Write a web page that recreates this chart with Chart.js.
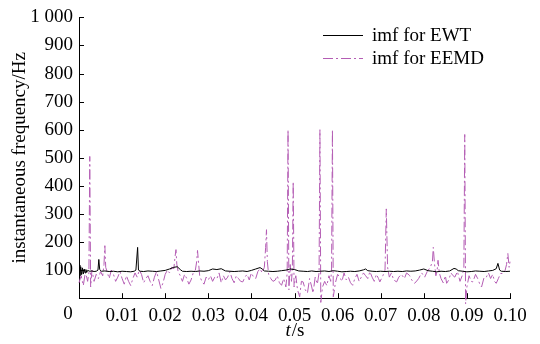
<!DOCTYPE html>
<html>
<head>
<meta charset="utf-8">
<script src="https://cdn.jsdelivr.net/npm/chart.js@4.4.1/dist/chart.umd.min.js"></script>
<style>
  html, body { margin: 0; padding: 0; background: #fff; }
  #wrap { width: 540px; height: 344px; }
</style>
</head>
<body>
<div id="wrap"><canvas id="c" width="540" height="344"></canvas></div>
<script>
// ---- data ----
const seriesNames = ['imf for EWT', 'imf for EEMD'];

const ewtTime = [0, 0.0002, 0.0004, 0.0006, 0.0008, 0.0010, 0.0012, 0.0014, 0.0016, 0.0018, 0.0020, 0.0025, 0.0030, 0.0035, 0.0040, 0.0044, 0.0046, 0.0048, 0.0052, 0.006, 0.007, 0.008, 0.009, 0.010, 0.011, 0.012, 0.0128, 0.0132, 0.0136, 0.0138, 0.0142, 0.015, 0.016, 0.017, 0.018, 0.019, 0.020, 0.021, 0.022, 0.0228, 0.0235, 0.024, 0.025, 0.026, 0.027, 0.028, 0.029, 0.030, 0.031, 0.032, 0.033, 0.034, 0.035, 0.036, 0.037, 0.038, 0.039, 0.040, 0.041, 0.042, 0.0425, 0.043, 0.044, 0.045, 0.046, 0.047, 0.048, 0.049, 0.050, 0.051, 0.052, 0.053, 0.054, 0.055, 0.056, 0.057, 0.058, 0.059, 0.060, 0.061, 0.062, 0.063, 0.064, 0.065, 0.066, 0.0665, 0.067, 0.068, 0.069, 0.070, 0.071, 0.072, 0.073, 0.074, 0.075, 0.076, 0.077, 0.078, 0.079, 0.080, 0.081, 0.082, 0.083, 0.084, 0.085, 0.086, 0.087, 0.0875, 0.088, 0.089, 0.090, 0.091, 0.092, 0.093, 0.094, 0.095, 0.096, 0.0968, 0.0972, 0.0976, 0.098, 0.099, 0.100];
const ewtFreq = [118, 80, 112, 84, 108, 86, 104, 90, 102, 92, 99, 96, 97, 95, 96, 100, 138, 102, 96, 97, 95, 96, 94, 96, 95, 94, 96, 100, 181, 100, 96, 95, 97, 96, 95, 97, 99, 104, 110, 112, 102, 96, 95, 96, 95, 97, 96, 98, 104, 102, 105, 97, 96, 95, 96, 97, 95, 99, 104, 109, 104, 97, 96, 95, 96, 98, 100, 104, 102, 97, 96, 95, 97, 95, 96, 97, 95, 98, 96, 94, 95, 96, 95, 97, 101, 104, 98, 96, 95, 96, 95, 96, 95, 96, 95, 97, 96, 97, 100, 104, 98, 96, 94, 96, 95, 97, 106, 104, 98, 96, 94, 95, 97, 96, 95, 97, 99, 105, 124, 100, 96, 95, 96];

const eemdTime = [0.0000, 0.0005, 0.0010, 0.0015, 0.0020, 0.0023, 0.0025, 0.0027, 0.0030, 0.0035, 0.0040, 0.0045, 0.0050, 0.0055, 0.0058, 0.0060, 0.0062, 0.0065, 0.0070, 0.0075, 0.0080, 0.0085, 0.0090, 0.0095, 0.0100, 0.0105, 0.0110, 0.0115, 0.0120, 0.0125, 0.0130, 0.0135, 0.0140, 0.0145, 0.0150, 0.0155, 0.0160, 0.0165, 0.0170, 0.0175, 0.0180, 0.0185, 0.0190, 0.0195, 0.0200, 0.0205, 0.0210, 0.0215, 0.0220, 0.0223, 0.0225, 0.0227, 0.0230, 0.0235, 0.0240, 0.0245, 0.0250, 0.0255, 0.0260, 0.0265, 0.0270, 0.0273, 0.0275, 0.0278, 0.0280, 0.0285, 0.0290, 0.0295, 0.0300, 0.0305, 0.0310, 0.0315, 0.0320, 0.0325, 0.0330, 0.0335, 0.0340, 0.0345, 0.0350, 0.0355, 0.0360, 0.0365, 0.0370, 0.0375, 0.0380, 0.0385, 0.0390, 0.0395, 0.0400, 0.0405, 0.0410, 0.0415, 0.0420, 0.0425, 0.0430, 0.0433, 0.0435, 0.0437, 0.0440, 0.0445, 0.0450, 0.0455, 0.0460, 0.0465, 0.0470, 0.0475, 0.0480, 0.0483, 0.0485, 0.0487, 0.0490, 0.0493, 0.0495, 0.0497, 0.0499, 0.0503, 0.0507, 0.0512, 0.0516, 0.0520, 0.0525, 0.0530, 0.0535, 0.0540, 0.0543, 0.0548, 0.0553, 0.0557, 0.0559, 0.0561, 0.0565, 0.0570, 0.0575, 0.0580, 0.0584, 0.0586, 0.0588, 0.0590, 0.0595, 0.0600, 0.0605, 0.0610, 0.0615, 0.0620, 0.0625, 0.0630, 0.0635, 0.0640, 0.0645, 0.0650, 0.0655, 0.0660, 0.0665, 0.0670, 0.0675, 0.0680, 0.0685, 0.0690, 0.0695, 0.0698, 0.0705, 0.0710, 0.0713, 0.0716, 0.0720, 0.0725, 0.0730, 0.0737, 0.0742, 0.0748, 0.0755, 0.0760, 0.0767, 0.0772, 0.0778, 0.0782, 0.0788, 0.0795, 0.0802, 0.0808, 0.0815, 0.0820, 0.0822, 0.0825, 0.0828, 0.0831, 0.0833, 0.0836, 0.0840, 0.0845, 0.0850, 0.0853, 0.0858, 0.0863, 0.0868, 0.0872, 0.0878, 0.0884, 0.0889, 0.0893, 0.0895, 0.0897, 0.0900, 0.0905, 0.0910, 0.0914, 0.0920, 0.0925, 0.0930, 0.0934, 0.0940, 0.0945, 0.0950, 0.0955, 0.0960, 0.0964, 0.0968, 0.0973, 0.0978, 0.0983, 0.0988, 0.0992, 0.0995, 0.0998, 0.1000];
const eemdFreq = [55, 80, 45, 95, 60, 90, 505, 40, 100, 60, 85, 70, 95, 80, 120, 187, 110, 95, 70, 100, 85, 60, 75, 95, 70, 50, 80, 60, 45, 70, 90, 75, 100, 85, 55, 70, 80, 60, 45, 75, 95, 65, 35, 55, 85, 100, 90, 110, 105, 150, 173, 120, 95, 80, 60, 85, 70, 50, 65, 90, 100, 130, 170, 115, 80, 60, 50, 75, 65, 80, 60, 75, 70, 90, 55, 80, 65, 75, 95, 70, 55, 80, 70, 60, 58, 75, 85, 65, 90, 75, 70, 95, 105, 90, 110, 180, 244, 130, 85, 70, 60, 64, 80, 55, 46, 70, 40, 90, 600, 30, 120, 60, 100, 415, 40, 80, 30, 5, 60, 58, 30, 18, 70, 40, 18, 75, 50, 90, 600, -15, 40, 60, 45, 80, 60, 100, 600, 5, 55, 85, 75, 60, 90, 65, 75, 55, 46, 70, 85, 60, 75, 90, 80, 70, 95, 75, 60, 85, 70, 58, 80, 100, 318, 110, 75, 90, 65, 58, 75, 85, 70, 90, 81, 65, 53, 58, 70, 90, 75, 95, 110, 130, 181, 120, 80, 100, 135, 90, 70, 55, 80, 53, 65, 90, 80, 75, 95, 60, 80, 110, 583, -20, 40, 80, 60, 58, 85, 70, 50, 40, 75, 75, 90, 70, 85, 60, 53, 70, 88, 88, 95, 120, 159, 110, 130];

const xTickValues = [0, 0.01, 0.02, 0.03, 0.04, 0.05, 0.06, 0.07, 0.08, 0.09, 0.10];
const yTickValues = [0, 100, 200, 300, 400, 500, 600, 700, 800, 900, 1000];
const yAxisTitle = 'instantaneous frequency/Hz';
const xAxisTitleItalic = 't';
const xAxisTitleRest = '/s';
const originLabel = '0';

// ---- styling ----
const FONT = "'Liberation Serif', 'Times New Roman', serif";
const EEMD_COLOR = '#b45db4';
const DASH = [10, 3, 2, 3];
const TICK_SIZE = 19;

const ewtData = ewtTime.map((t, i) => ({ x: t, y: ewtFreq[i] }));
const eemdData = eemdTime.map((t, i) => ({ x: t, y: eemdFreq[i] }));

const inwardTicks = {
  id: 'inwardTicks',
  afterDraw(chart) {
    const { ctx, chartArea, scales } = chart;
    ctx.save();
    ctx.strokeStyle = '#000';
    ctx.lineWidth = 1;
    ctx.beginPath();
    xTickValues.forEach(v => {
      const px = Math.round(scales.x.getPixelForValue(v)) + 0.5;
      ctx.moveTo(px, chartArea.bottom);
      ctx.lineTo(px, chartArea.bottom - 5);
    });
    yTickValues.forEach(v => {
      const py = Math.round(scales.y.getPixelForValue(v)) + 0.5;
      ctx.moveTo(chartArea.left, py);
      ctx.lineTo(chartArea.left + 5, py);
    });
    ctx.stroke();
    ctx.fillStyle = '#000';
    // origin label, left of the axis corner
    ctx.font = TICK_SIZE + "px " + FONT;
    ctx.textAlign = 'center';
    ctx.textBaseline = 'top';
    ctx.fillText(originLabel, chartArea.left - 11, chartArea.bottom + 6);
    // x axis title with italic t
    ctx.textBaseline = 'middle';
    const cx = (chartArea.left + chartArea.right) / 2;
    const ty = 331;
    ctx.font = "italic 19px " + FONT;
    const w1 = ctx.measureText(xAxisTitleItalic).width;
    ctx.font = "19px " + FONT;
    const w2 = ctx.measureText(xAxisTitleRest).width;
    const startX = cx - (w1 + w2) / 2;
    ctx.font = "italic 19px " + FONT;
    ctx.textAlign = 'left';
    ctx.fillText(xAxisTitleItalic, startX, ty);
    ctx.font = "19px " + FONT;
    ctx.fillText(xAxisTitleRest, startX + w1 + 1, ty);
    // legend
    const lx0 = 323, lx1 = 363, tx = 372;
    const rows = [
      { y: 35, color: '#000', dash: [] },
      { y: 58, color: EEMD_COLOR, dash: DASH }
    ];
    rows.forEach((r, i) => {
      ctx.beginPath();
      ctx.setLineDash(r.dash);
      ctx.strokeStyle = r.color;
      ctx.lineWidth = 1;
      ctx.moveTo(lx0, r.y + 0.5);
      ctx.lineTo(lx1, r.y + 0.5);
      ctx.stroke();
      ctx.setLineDash([]);
      ctx.font = "19px " + FONT;
      ctx.fillStyle = '#000';
      ctx.textAlign = 'left';
      ctx.textBaseline = 'middle';
      ctx.fillText(seriesNames[i], tx, r.y + 1);
    });
    ctx.restore();
  }
};

new Chart(document.getElementById('c'), {
  type: 'line',
  data: {
    datasets: [
      { label: seriesNames[0], data: ewtData, borderColor: '#000', borderWidth: 1, pointRadius: 0, tension: 0, order: 1 },
      { label: seriesNames[1], data: eemdData, borderColor: EEMD_COLOR, borderWidth: 1, borderDash: DASH, pointRadius: 0, tension: 0, clip: false, order: 2 }
    ]
  },
  options: {
    responsive: false,
    animation: false,
    devicePixelRatio: 1,
    layout: { padding: { top: 7, right: 30, bottom: 11, left: 4 } },
    plugins: { legend: { display: false }, tooltip: { enabled: false } },
    scales: {
      x: {
        type: 'linear', min: 0, max: 0.1,
        afterBuildTicks(scale) { scale.ticks = xTickValues.map(v => ({ value: v })); },
        ticks: {
          color: '#000', font: { family: FONT, size: TICK_SIZE }, padding: 6, maxRotation: 0, autoSkip: false,
          callback: v => (v === 0 ? '' : (Math.round(v * 100) / 100).toFixed(2))
        },
        grid: { display: false, drawTicks: false },
        border: { display: true, color: '#000', width: 1 }
      },
      y: {
        type: 'linear', min: 0, max: 1000,
        afterBuildTicks(scale) { scale.ticks = yTickValues.map(v => ({ value: v })); },
        afterFit(scale) { scale.width = 75; },
        ticks: {
          color: '#000', font: { family: FONT, size: TICK_SIZE }, padding: 6, autoSkip: false,
          callback: v => (v === 0 ? '' : (v === 1000 ? '1 000' : String(v)))
        },
        title: { display: true, text: yAxisTitle, color: '#000', font: { family: FONT, size: 19 }, padding: { top: 5, bottom: 0 } },
        grid: { display: false, drawTicks: false },
        border: { display: true, color: '#000', width: 1 }
      }
    }
  },
  plugins: [inwardTicks]
});
</script>
</body>
</html>
